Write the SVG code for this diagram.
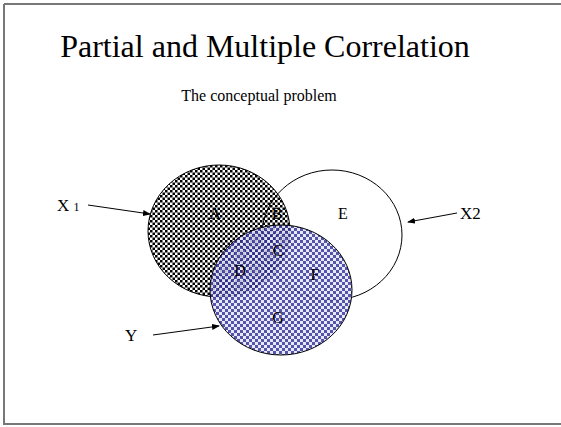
<svg xmlns="http://www.w3.org/2000/svg" width="561" height="427" viewBox="0 0 561 427">
<defs>
<pattern id="chkBlack" width="5" height="5" patternUnits="userSpaceOnUse">
<rect width="5" height="5" fill="#fff"/>
<rect width="2.5" height="2.5" fill="#000"/>
<rect x="2.5" y="2.5" width="2.5" height="2.5" fill="#000"/>
</pattern>
<pattern id="chkBlue" width="6" height="6" patternUnits="userSpaceOnUse">
<rect width="6" height="6" fill="#e4e4f4"/>
<rect width="3" height="3" fill="#36369c"/>
<rect x="3" y="3" width="3" height="3" fill="#36369c"/>
</pattern>
<marker id="arr" markerWidth="8" markerHeight="6" refX="7" refY="3" orient="auto" markerUnits="userSpaceOnUse">
<path d="M0,0 L8,3 L0,6 z" fill="#000"/>
</marker>
</defs>
<style>
text{font-family:'Liberation Serif','Times New Roman',serif;fill:#000}
.lbl{font-size:16px;text-anchor:middle}
.c{stroke:#000;stroke-width:1}
.conn{stroke:#000;stroke-width:1;fill:none;marker-end:url(#arr)}
</style>
<rect x="0" y="0" width="561" height="427" fill="#fff"/>
<path d="M4,4 H561 M4,4 V424 H561" stroke="#777" stroke-width="2" fill="none"/>
<text x="265" y="57" font-size="32" text-anchor="middle">Partial and Multiple Correlation</text>
<text x="259" y="101" font-size="16" text-anchor="middle">The conceptual problem</text>
<g id="X1">
<ellipse class="c" cx="219" cy="231" rx="71" ry="66" fill="url(#chkBlack)"/>
</g>
<g id="X2">
<ellipse class="c" cx="332" cy="235" rx="70" ry="65" fill="none"/>
</g>
<g id="Y">
<ellipse class="c" cx="281" cy="290" rx="71" ry="65" fill="url(#chkBlue)" fill-opacity="0.85"/>
</g>
<g id="regions">
<text class="lbl" x="215" y="219">A</text>
<text class="lbl" x="277" y="219">B</text>
<text class="lbl" x="343" y="219">E</text>
<text class="lbl" x="278" y="256">C</text>
<text class="lbl" x="240" y="276">D</text>
<text class="lbl" x="315" y="280">F</text>
<text class="lbl" x="278" y="323">G</text>
</g>
<g id="labelX1">
<text x="57" y="211" font-size="17">X <tspan font-size="12">1</tspan></text>
</g>
<g id="labelX2">
<text x="460" y="219" font-size="17">X2</text>
</g>
<g id="labelY">
<text x="125" y="341" font-size="17">Y</text>
</g>
<g id="connectors">
<line class="conn" x1="88" y1="205" x2="150" y2="214"/>
<line class="conn" x1="457" y1="213" x2="408" y2="222"/>
<line class="conn" x1="153" y1="335" x2="219" y2="326"/>
</g>
</svg>
